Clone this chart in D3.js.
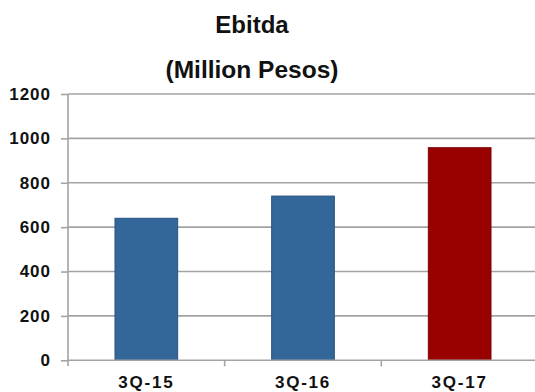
<!DOCTYPE html>
<html><head><meta charset="utf-8">
<script src="https://cdn.jsdelivr.net/npm/d3@7"></script>
<style>
html,body{margin:0;padding:0;background:#fff;}
svg{display:block;}
text{font-family:Arial,"Liberation Sans",sans-serif;font-weight:bold;fill:#111;}
</style></head>
<body>
<script>
const categories = ["3Q-15", "3Q-16", "3Q-17"];
const values = [640, 740, 958];
const barColors = ["#336699", "#336699", "#990000"];
const yTicks = [0, 200, 400, 600, 800, 1000, 1200];
const titleLines = ["Ebitda", "(Million Pesos)"];

const W = 535, H = 392;
const svg = d3.select("body").append("svg").attr("width", W).attr("height", H);

const x = d3.scaleBand().domain(categories).range([68, 538]).paddingInner(0.6).paddingOuter(0.3);
const y = d3.scaleLinear().domain([0, 1200]).range([360.3, 94]);

// gridlines
svg.append("g").selectAll("line").data(yTicks.filter(d => d > 0)).join("line")
  .attr("x1", 68).attr("x2", W)
  .attr("y1", d => y(d)).attr("y2", d => y(d))
  .attr("stroke", "#a3a3a3").attr("stroke-width", 1.6);

// bars
svg.append("g").selectAll("rect").data(values).join("rect")
  .attr("x", (d, i) => x(categories[i]))
  .attr("width", x.bandwidth())
  .attr("y", d => y(d))
  .attr("height", d => y(0) - y(d))
  .attr("fill", (d, i) => barColors[i])
  .attr("stroke", (d, i) => d3.color(barColors[i]).darker(0.6))
  .attr("stroke-width", 1);

// y axis
const yAxis = d3.axisLeft(y).tickValues(yTicks).tickFormat(d3.format("d"))
  .tickSize(7).tickSizeOuter(0).tickPadding(10);
const gy = svg.append("g").attr("transform", "translate(68,0)").call(yAxis);
gy.select(".domain").remove();
gy.append("line").attr("x1", 0).attr("x2", 0).attr("y1", y(1200)).attr("y2", 366)
  .attr("stroke", "#a3a3a3").attr("stroke-width", 1.6);
gy.selectAll(".tick line").attr("stroke", "#a3a3a3").attr("stroke-width", 1.6);
gy.selectAll(".tick text").attr("font-size", 17).attr("letter-spacing", "1px")
  .style("font-family", "Arial, 'Liberation Sans', sans-serif").style("font-weight", "bold").attr("fill", "#111");

// x axis
const boundaries = categories.slice(1).map(c => x(c) - x.step() * x.paddingInner() / 2);
const gx = svg.append("g");
gx.append("line").attr("x1", 68).attr("x2", W).attr("y1", y(0)).attr("y2", y(0))
  .attr("stroke", "#a3a3a3").attr("stroke-width", 1.6);
gx.selectAll("line.tk").data(boundaries).join("line").attr("class", "tk")
  .attr("x1", d => d).attr("x2", d => d).attr("y1", y(0)).attr("y2", y(0) + 6)
  .attr("stroke", "#a3a3a3").attr("stroke-width", 1.6);
gx.selectAll("text").data(categories).join("text")
  .attr("x", d => x(d) + x.bandwidth() / 2)
  .attr("y", 388)
  .attr("text-anchor", "middle")
  .attr("font-size", 17).attr("letter-spacing", "1.8px")
  .text(d => d);

// titles
svg.append("text").attr("x", 252).attr("y", 33).attr("text-anchor", "middle")
  .attr("font-size", 24).text(titleLines[0]);
svg.append("text").attr("x", 252).attr("y", 77.5).attr("text-anchor", "middle")
  .attr("font-size", 24.5).text(titleLines[1]);
</script>
</body></html>
